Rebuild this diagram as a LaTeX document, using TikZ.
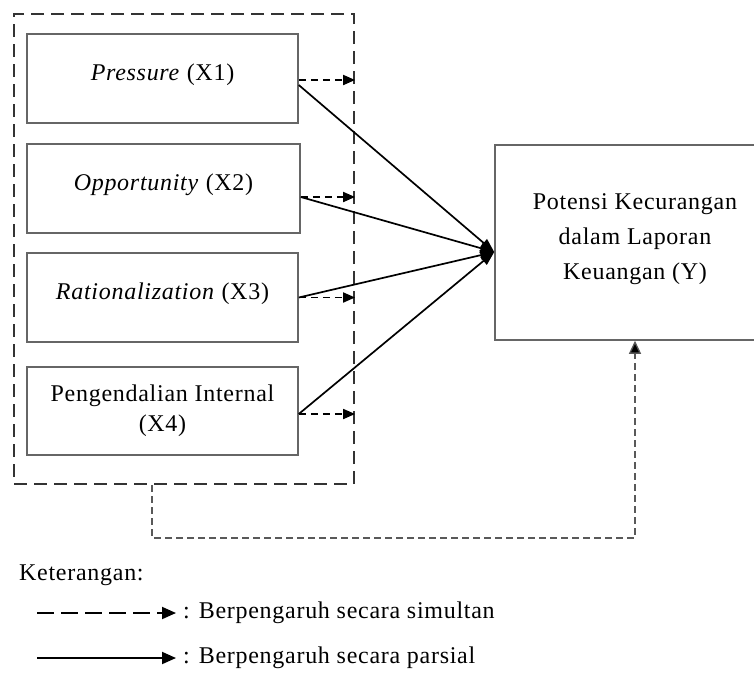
\documentclass[tikz,border=0pt]{standalone}
\usepackage{fontspec}
\setmainfont[LetterSpace=3]{Liberation Serif}
\usetikzlibrary{arrows.meta}

\begin{document}
\begin{tikzpicture}[x=1pt,y=-1pt,
  every node/.style={font=\fontsize{24}{30}\selectfont},
  var/.style={draw=black!60,line width=1.5pt,minimum width=271pt,minimum height=89pt,inner sep=0pt,align=center},
  simul/.style={dash pattern=on 7pt off 5pt,line width=1.8pt,-{Triangle[length=12pt,width=10pt]}},
  parsial/.style={line width=1.7pt,-{Triangle[length=14pt,width=10pt]}},
  umpan/.style={draw=black!65,dash pattern=on 7pt off 4pt,line width=1.3pt,-{Triangle[length=13pt,width=12pt,fill=black]}},
  keylabel/.style={anchor=west,inner sep=1pt}
  ]
  \path[use as bounding box,clip] (0,0) rectangle (754,673);

  \node[draw=black!80,dash pattern=on 13pt off 7pt,line width=2.2pt,minimum width=340pt,minimum height=470pt] (frame) at (184,249) {};

  \node[var,text depth=12pt] (x1) at (162.5,78.5) {\textit{Pressure} (X1)};
  \node[var,text depth=12pt,minimum width=273pt] (x2) at (163.5,188.5) {\textit{Opportunity} (X2)};
  \node[var,text depth=12pt] (x3) at (162.5,297.5) {\textit{Rationalization} (X3)};
  \node[var,minimum height=88pt] (x4) at (162.5,411) {Pengendalian Internal\\(X4)};

  \node[var,minimum width=280pt,minimum height=195pt,text depth=12pt] (y) at (635,242.5)
    {Potensi Kecurangan\\[5pt]dalam Laporan\\[5pt]Keuangan (Y)};

  % partial and simultaneous arrows of each variable
  \foreach \i/\d/\s in {1/-1.5/-6.5,2/-8.5/-8.5,3/0/0,4/-3/-3} {
    \coordinate (s\i) at ([yshift=\d pt]x\i.east);
    \coordinate (p\i) at ([yshift=\s pt]x\i.east);
    \draw[simul] (s\i) -- (s\i -| frame.east);
    \draw[parsial] (p\i) -- ([yshift=-9.5pt]y.west);
  }

  % simultaneous effect
  \coordinate (fb) at (152,538);
  \draw[umpan] (fb |- frame.south) -- (fb) -| (y.south);

  % legend
  \node[keylabel] (ket) at (18,575) {Keterangan:};
  \node[keylabel] (lsim) at (182,613) {: Berpengaruh secara simultan};
  \node[keylabel] (lpar) at (182,658) {: Berpengaruh secara parsial};
  \coordinate (a1) at (37,613);
  \coordinate (a2) at (37,658);
  \draw[dash pattern=on 17pt off 7pt,line width=1.9pt,shorten >=6pt,-{Triangle[length=14pt,width=12pt]}] (a1) -- (lsim.west);
  \draw[line width=1.9pt,shorten >=6pt,-{Triangle[length=14pt,width=12pt]}] (a2) -- (lpar.west);
\end{tikzpicture}
\end{document}
